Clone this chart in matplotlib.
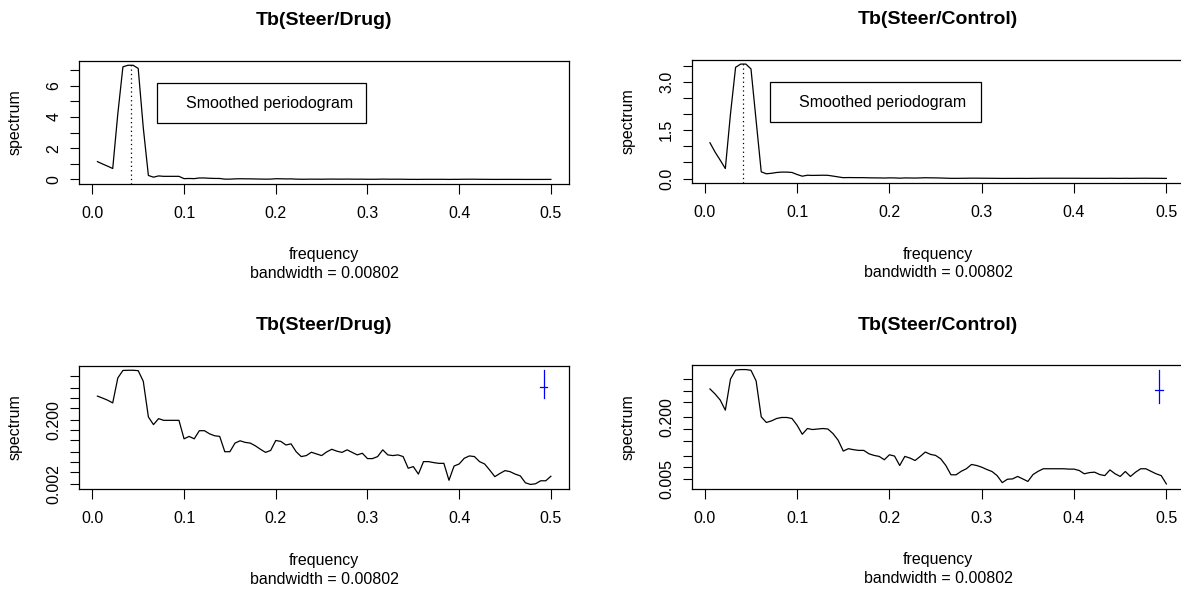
"""Smoothed periodograms of body temperature (Tb), drug vs control"""
import numpy as np
import matplotlib.pyplot as plt
from matplotlib.patches import Rectangle
from matplotlib.ticker import NullLocator

plt.rcParams["font.family"] = ["Liberation Sans", "DejaVu Sans"]

W, H = 1181, 590

# frequency grid k/180, k = 1..90
n_obs = 180
freq = np.arange(1, 91) / n_obs
bandwidth = 0.00802
circadian = 1 / 24

spec_drug = [
    1.14, 0.99, 0.85, 0.70, 4.2, 7.2, 7.3, 7.3, 7.1, 3.3,
    0.255, 0.147, 0.226, 0.20, 0.20, 0.20, 0.20, 0.053, 0.063, 0.053,
    0.095, 0.095, 0.076, 0.066, 0.063, 0.021, 0.021, 0.039, 0.046, 0.041,
    0.039, 0.032, 0.025, 0.020, 0.023, 0.047, 0.044, 0.034, 0.037, 0.021,
    0.0148, 0.0159, 0.0202, 0.0179, 0.0159, 0.0207, 0.025, 0.0218, 0.020, 0.024,
    0.020, 0.0167, 0.0188, 0.0128, 0.0128, 0.0148, 0.024, 0.0167, 0.0159, 0.0167,
    0.0148, 0.0064, 0.0072, 0.0042, 0.0103, 0.0103, 0.0096, 0.0091, 0.0091, 0.0027,
    0.0075, 0.0087, 0.0131, 0.0155, 0.0148, 0.0103, 0.0087, 0.0056, 0.0035, 0.0044,
    0.0054, 0.0050, 0.0042, 0.0037, 0.00225, 0.0020, 0.0021, 0.0026, 0.0026, 0.0036,
]

spec_control = [
    1.11, 0.82, 0.57, 0.31, 2.0, 3.45, 3.55, 3.55, 3.4, 1.8,
    0.208, 0.148, 0.163, 0.188, 0.20, 0.20, 0.188, 0.125, 0.073, 0.103,
    0.097, 0.100, 0.103, 0.100, 0.076, 0.051, 0.0266, 0.0307, 0.0289, 0.0277,
    0.0277, 0.0226, 0.0205, 0.0193, 0.0158, 0.0213, 0.0197, 0.0112, 0.0193, 0.0175,
    0.0151, 0.0193, 0.0251, 0.0218, 0.0205, 0.0167, 0.0112, 0.0064, 0.0064, 0.0079,
    0.0092, 0.0119, 0.0112, 0.0101, 0.0088, 0.0078, 0.0061, 0.0040, 0.0049, 0.0050,
    0.0058, 0.0050, 0.0043, 0.0065, 0.0079, 0.0092, 0.0092, 0.0092, 0.0092, 0.0092,
    0.0090, 0.0090, 0.0083, 0.0068, 0.0073, 0.0075, 0.0065, 0.0061, 0.0086, 0.0068,
    0.0058, 0.0078, 0.0058, 0.0075, 0.0092, 0.0092, 0.0079, 0.0068, 0.0061, 0.0037,
]

# 95% chi-square interval ratios for the smoothed estimate
ci_lower, ci_upper = 0.45, 3.35

xticks = [0.0, 0.1, 0.2, 0.3, 0.4, 0.5]
xlabels = ["0.0", "0.1", "0.2", "0.3", "0.4", "0.5"]

FS = 11.5

fig = plt.figure(figsize=(W / 100, H / 100), dpi=100)


def draw_panel(rect, spec, title, yticks, ylabels, log=False):
    l, t, w, h = rect
    ax = fig.add_axes([l / W, 1 - (t + h) / H, w / W, h / H])
    spec = np.asarray(spec)
    ax.plot(freq, spec, color="black", lw=0.9)
    if log:
        ax.set_yscale("log")
        cy = spec.max() / ci_upper
        cx = freq.max() - bandwidth
        ax.plot([cx, cx], [cy * ci_lower, cy * ci_upper], color="blue", lw=0.9)
        ax.plot([cx - bandwidth / 2, cx + bandwidth / 2], [cy, cy], color="blue", lw=0.9)
    else:
        ax.axvline(circadian, color="black", lw=0.9, ls=(0, (1, 2.5)))
        ax.add_patch(Rectangle((0.159, 0.492), 0.427, 0.325, transform=ax.transAxes,
                               fill=False, ec="black", lw=0.9))
        ax.text(0.217, 0.655, "Smoothed periodogram", transform=ax.transAxes,
                ha="left", va="center", fontsize=FS)
    ax.margins(0.04)
    ax.set_xticks(xticks)
    ax.set_xticklabels(xlabels, fontsize=FS)
    ax.set_yticks(yticks)
    ax.set_yticklabels(ylabels, fontsize=FS, rotation=90, va="center")
    ax.yaxis.set_minor_locator(NullLocator())
    ax.tick_params(axis="x", direction="out", length=7, width=0.8, pad=9)
    ax.tick_params(axis="y", direction="out", length=6.7, width=0.8, pad=6)
    for s in ax.spines.values():
        s.set_linewidth(0.9)
        s.set_color("black")

    cx_px = l + w / 2
    fig.text(cx_px / W, 1 - (t - 40) / H, title, ha="center", va="center",
             fontsize=14, fontweight="bold")
    fig.text(cx_px / W, 1 - (t + h + 71) / H, "frequency", ha="center", va="center",
             fontsize=FS)
    fig.text(cx_px / W, 1 - (t + h + 90) / H, "bandwidth = 0.00802", ha="center",
             va="center", fontsize=FS)
    fig.text((l - 64) / W, 1 - (t + h / 2) / H, "spectrum", ha="center", va="center",
             rotation=90, fontsize=FS)
    return ax


draw_panel((79.3, 60.7, 489.7, 123.3), spec_drug, "Tb(Steer/Drug)",
           list(range(8)), ["0", "", "2", "", "4", "", "6", ""])
draw_panel((691.7, 59.5, 492.9, 123.5), spec_control, "Tb(Steer/Control)",
           [0, 0.5, 1, 1.5, 2, 2.5, 3, 3.5], ["0.0", "", "", "1.5", "", "", "3.0", ""])
draw_panel((79.3, 365.7, 489.7, 123.3), spec_drug, "Tb(Steer/Drug)",
           [0.002, 0.005, 0.01, 0.02, 0.05, 0.1, 0.2, 0.5, 1, 2, 5],
           ["0.002", "", "", "", "", "", "0.200", "", "", "", ""], log=True)
draw_panel((691.7, 365.0, 492.9, 123.5), spec_control, "Tb(Steer/Control)",
           [0.005, 0.01, 0.02, 0.05, 0.1, 0.2, 0.5, 1, 2],
           ["0.005", "", "", "", "", "0.200", "", "", ""], log=True)

fig.savefig("out.png", dpi=100)
